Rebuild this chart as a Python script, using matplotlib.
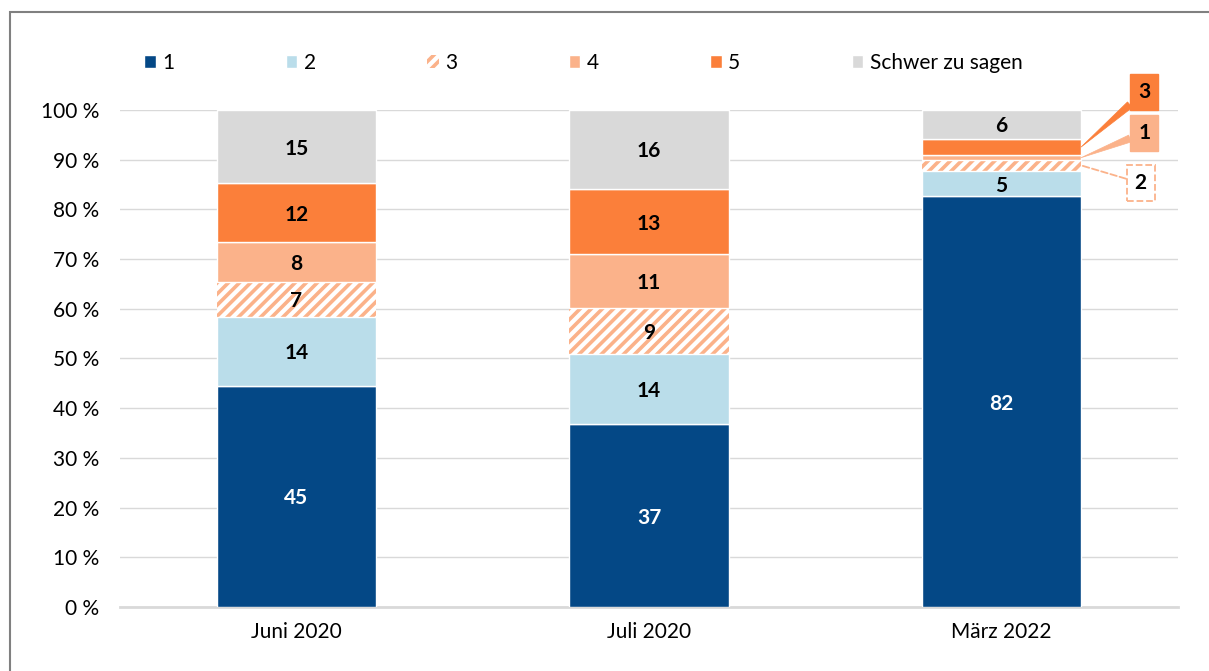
import matplotlib as mpl
mpl.use('Agg')

import numpy as np
import matplotlib.pyplot as plt
from matplotlib.patches import Rectangle

plt.rcParams['font.family'] = ['Lato', 'DejaVu Sans']
plt.rcParams['hatch.linewidth'] = 2.6

categories = ['Juni 2020', 'Juli 2020', 'März 2022']
series_names = ['1', '2', '3', '4', '5', 'Schwer zu sagen']

# segment heights in %
v1 = [44.5, 36.8, 82.6]
v2 = [13.9, 14.1, 5.2]
v3 = [7.0, 9.3, 2.1]
v4 = [8.0, 10.8, 1.0]
v5 = [11.9, 13.1, 3.3]
v6 = [14.7, 15.9, 5.8]

# printed labels
l1 = [45, 37, 82]
l2 = [14, 14, 5]
l3 = [7, 9, 2]
l4 = [8, 11, 1]
l5 = [12, 13, 3]
l6 = [15, 16, 6]

colors = ['#044886', '#BADDEA', '#FBB28A', '#FBB28A', '#FB7F3A', '#D9D9D9']
text_colors = ['white', 'black', 'black', 'black', 'black', 'black']

# labels drawn as callouts outside the bar (series index, category index)
callouts = {(4, 2): (2.405, 103.6, 'filled'),
            (3, 2): (2.405, 95.4, 'filled'),
            (2, 2): (2.394, 85.3, 'dashed')}

values = [v1, v2, v3, v4, v5, v6]
labels = [l1, l2, l3, l4, l5, l6]
fs = 15

fig = plt.figure(figsize=(12.09, 6.71), dpi=100)
ax = fig.add_axes([0.0993, 0.0954, 0.8750, 0.7407])

x = np.arange(len(categories))
width = 0.451
bottom = np.zeros(len(categories))

for k in range(len(values)):
    vals = np.array(values[k])
    if k == 2:
        ax.bar(x, vals, width, bottom=bottom, color='white', edgecolor=colors[k],
               hatch='///', linewidth=0, label=series_names[k], zorder=2)
    else:
        ax.bar(x, vals, width, bottom=bottom, color=colors[k], edgecolor='white',
               linewidth=1, label=series_names[k], zorder=3)
    for i in range(len(categories)):
        mid = bottom[i] + vals[i] / 2
        if (k, i) in callouts:
            tx, ty, style = callouts[(k, i)]
            xy = (x[i] + width / 2, mid)
            if style == 'filled':
                ax.annotate(str(labels[k][i]), xy=xy, xytext=(tx, ty),
                            ha='center', va='center', fontsize=fs, fontweight='bold',
                            bbox=dict(boxstyle='square,pad=0.38', fc=colors[k], ec=colors[k]),
                            arrowprops=dict(arrowstyle='wedge,tail_width=0.35,shrink_factor=0.5',
                                            fc=colors[k], ec=colors[k], lw=0.5,
                                            shrinkA=0, shrinkB=0),
                            annotation_clip=False, zorder=5)
            else:
                ax.annotate(str(labels[k][i]), xy=xy, xytext=(tx, ty),
                            ha='center', va='center', fontsize=fs, fontweight='bold',
                            bbox=dict(boxstyle='square,pad=0.38', fc='white', ec=colors[k],
                                      ls='--', lw=1.3),
                            arrowprops=dict(arrowstyle='-', color=colors[k], ls='--', lw=1.3,
                                            shrinkA=0, shrinkB=0),
                            annotation_clip=False, zorder=5)
        else:
            ax.text(x[i], mid, str(labels[k][i]), ha='center', va='center_baseline',
                    fontsize=fs, fontweight='bold', color=text_colors[k], zorder=4)
    bottom += vals

ax.set_xlim(-0.5, 2.5)
ax.set_ylim(0, 100)
ax.set_xticks(x)
ax.set_xticklabels(categories, fontsize=fs)
ax.set_yticks(np.arange(0, 101, 10))
ax.set_yticklabels(['%d %%' % t for t in range(0, 101, 10)], fontsize=fs)
ax.tick_params(axis='both', length=0)
ax.tick_params(axis='y', pad=15)
ax.tick_params(axis='x', pad=11)
ax.grid(axis='y', color='#D9D9D9', lw=1)
ax.set_axisbelow(True)
for s in ['top', 'right', 'left']:
    ax.spines[s].set_visible(False)
ax.spines['bottom'].set_color('#D9D9D9')
ax.spines['bottom'].set_linewidth(2)

fig.legend(loc='center left', bbox_to_anchor=(0.1195, 0.906), ncol=6, frameon=False,
           fontsize=fs, handlelength=0.55, handleheight=0.55, handletextpad=0.3,
           columnspacing=5.36, borderaxespad=0, borderpad=0)

fig.add_artist(Rectangle((10 / 1209, -0.1), 1.2, 1 - 12 / 671 + 0.1,
                         transform=fig.transFigure, fill=False,
                         edgecolor='#808080', lw=1.5))

plt.savefig('out.png', dpi=100)
